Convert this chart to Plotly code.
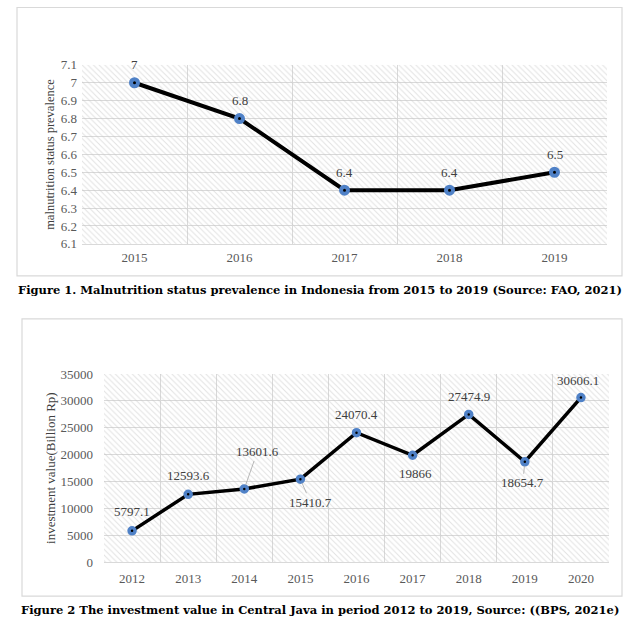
import plotly.graph_objects as go

# Figure 1 data: malnutrition prevalence (FAO)
years_1 = [2015, 2016, 2017, 2018, 2019]
prevalence = [7.0, 6.8, 6.4, 6.4, 6.5]
prevalence_labels = ["7", "6.8", "6.4", "6.4", "6.5"]

# Figure 2 data: investment value, Central Java (BPS)
years_2 = [2012, 2013, 2014, 2015, 2016, 2017, 2018, 2019, 2020]
investment = [5797.1, 12593.6, 13601.6, 15410.7, 24070.4, 19866, 27474.9, 18654.7, 30606.1]

W, H = 639, 635
Y1_RANGE = [6.1, 7.1]
Y2_RANGE = [0, 35000]

SERIF = "Liberation Serif, Times New Roman, Times, serif"
TICK_GRAY = "#595959"
LABEL_GRAY = "#404040"
GRID = "#d9d9d9"
BLUE = "#4f81c7"

# the captured page comes out slightly squashed vertically; compensate
Y_OFF, Y_SCALE = 7.2, 0.976


def px_x(v):
    return v / W


def px_y(v):
    v = max((v - Y_OFF) / Y_SCALE, 0.5)
    return 1 - v / H


def hatch_bar(xs, yr, xa, ya):
    # diagonal hatched plot background, one cell per category
    return go.Bar(
        x=xs, y=[yr[1] - yr[0]] * len(xs), base=yr[0],
        width=1, xaxis=xa, yaxis=ya, hoverinfo="skip", showlegend=False,
        marker=dict(color="rgba(0,0,0,0)", line=dict(width=0),
                    pattern=dict(shape="\\", fgcolor="#c4c4c4", bgcolor="rgba(0,0,0,0)",
                                 size=4, solidity=0.25)),
    )


fig = go.Figure()
fig.add_trace(hatch_bar(years_1, Y1_RANGE, "x", "y"))
fig.add_trace(hatch_bar(years_2, Y2_RANGE, "x2", "y2"))

fig.add_trace(go.Scatter(
    x=years_1, y=prevalence, mode="lines+markers", xaxis="x", yaxis="y",
    line=dict(color="black", width=4), showlegend=False, cliponaxis=False,
    marker=dict(size=7, color="black", line=dict(color=BLUE, width=4)),
))
fig.add_trace(go.Scatter(
    x=years_2, y=investment, mode="lines+markers", xaxis="x2", yaxis="y2",
    line=dict(color="black", width=3.5), showlegend=False, cliponaxis=False,
    marker=dict(size=6, color="black", line=dict(color=BLUE, width=3.5)),
))

annotations = []
label_font = dict(family=SERIF, size=13, color=LABEL_GRAY)

for yr, v, t in zip(years_1, prevalence, prevalence_labels):
    annotations.append(dict(x=yr, y=v, xref="x", yref="y", text=t, showarrow=False,
                            xanchor="center", yanchor="middle", yshift=18, font=label_font))

# label offsets (px) and leader lines for figure 2
offsets_2 = [(0, -19), (0, -19), (13, -37), (10, 23), (0, -18), (3, 18), (0, -18), (-2, 21), (-3, -17)]
leader_2 = [False, False, True, True, False, False, False, True, False]
for yr, v, (dx, dy), lead in zip(years_2, investment, offsets_2, leader_2):
    text = f"{v:g}"
    if lead:
        annotations.append(dict(x=yr, y=v, xref="x2", yref="y2", text=text, showarrow=True,
                                ax=dx, ay=dy, arrowhead=0, arrowwidth=0.8, arrowcolor="#a6a6a6",
                                standoff=4, font=label_font))
    else:
        annotations.append(dict(x=yr, y=v, xref="x2", yref="y2", text=text, showarrow=False,
                                xanchor="center", yanchor="middle",
                                xshift=dx, yshift=-dy, font=label_font))

# axis titles
annotations.append(dict(x=px_x(50), y=px_y(155), xref="paper", yref="paper",
                        xanchor="center", yanchor="middle",
                        text="malnutrition status prevalence", textangle=-90, showarrow=False,
                        font=dict(family=SERIF, size=12.5, color=LABEL_GRAY)))
annotations.append(dict(x=px_x(51), y=px_y(468), xref="paper", yref="paper",
                        xanchor="center", yanchor="middle",
                        text="investment value(Billion Rp)", textangle=-90, showarrow=False,
                        font=dict(family=SERIF, size=13, color=LABEL_GRAY)))

# captions
cap_font = dict(family="DejaVu Serif", size=11.5, color="black")
annotations.append(dict(x=px_x(320), y=px_y(290), xref="paper", yref="paper",
                        xanchor="center", yanchor="middle",
                        text="<b>Figure 1. Malnutrition status prevalence in Indonesia from 2015 to 2019 (Source: FAO, 2021)</b>",
                        showarrow=False, font=cap_font))
annotations.append(dict(x=px_x(320), y=px_y(610), xref="paper", yref="paper",
                        xanchor="center", yanchor="middle",
                        text="<b>Figure 2 The investment value in Central Java in period 2012 to 2019, Source: ((BPS, 2021e)</b>",
                        showarrow=False, font=cap_font))

# chart borders
shapes = [
    dict(type="rect", xref="paper", yref="paper", x0=px_x(17), x1=px_x(622), y0=px_y(276), y1=px_y(5),
         line=dict(color=GRID, width=1.2), layer="below"),
    dict(type="rect", xref="paper", yref="paper", x0=px_x(22), x1=px_x(622), y0=px_y(596), y1=px_y(319),
         line=dict(color=GRID, width=1.2), layer="below"),
]

tick_font = dict(family=SERIF, size=13, color=TICK_GRAY)


def year_axis(years, domain, anchor, standoff):
    return dict(domain=domain, anchor=anchor, range=[years[0] - 0.5, years[-1] + 0.5],
                tickmode="array", tickvals=years, ticks="", showgrid=False,
                minor=dict(tick0=years[0] - 0.5, dtick=1, showgrid=True, gridcolor=GRID, gridwidth=1),
                tickfont=tick_font, showline=True, linecolor=GRID, zeroline=False,
                ticklabelstandoff=standoff, fixedrange=True)


yaxis_common = dict(showgrid=True, gridcolor=GRID, gridwidth=1, ticks="", tickfont=tick_font,
                    showline=False, zeroline=False, fixedrange=True)

fig.update_layout(
    width=W, height=H,
    margin=dict(l=0, r=0, t=0, b=0),
    paper_bgcolor="white", plot_bgcolor="white",
    barmode="overlay", showlegend=False,
    xaxis=year_axis(years_1, [px_x(82), px_x(607)], "y", 2),
    yaxis=dict(domain=[px_y(244), px_y(65)], anchor="x", range=[6.0999, 7.1001],
               tick0=6.1, dtick=0.1, ticklabelstandoff=4, **yaxis_common),
    xaxis2=year_axis(years_2, [px_x(104), px_x(609)], "y2", 4),
    yaxis2=dict(domain=[px_y(562), px_y(374)], anchor="x2", range=Y2_RANGE,
                tick0=0, dtick=5000, tickformat="d", ticklabelstandoff=10, **yaxis_common),
    annotations=annotations,
    shapes=shapes,
)

# pin the 639x635 figure to the window corner (no page margin / overflow)
pin = ("document.body.style.margin = '0';"
       "var gd = document.querySelector('.plotly-graph-div');"
       "gd.style.position = 'fixed'; gd.style.top = '0'; gd.style.left = '0';")
fig.write_html("out.html", post_script=pin, config={"displayModeBar": False})
